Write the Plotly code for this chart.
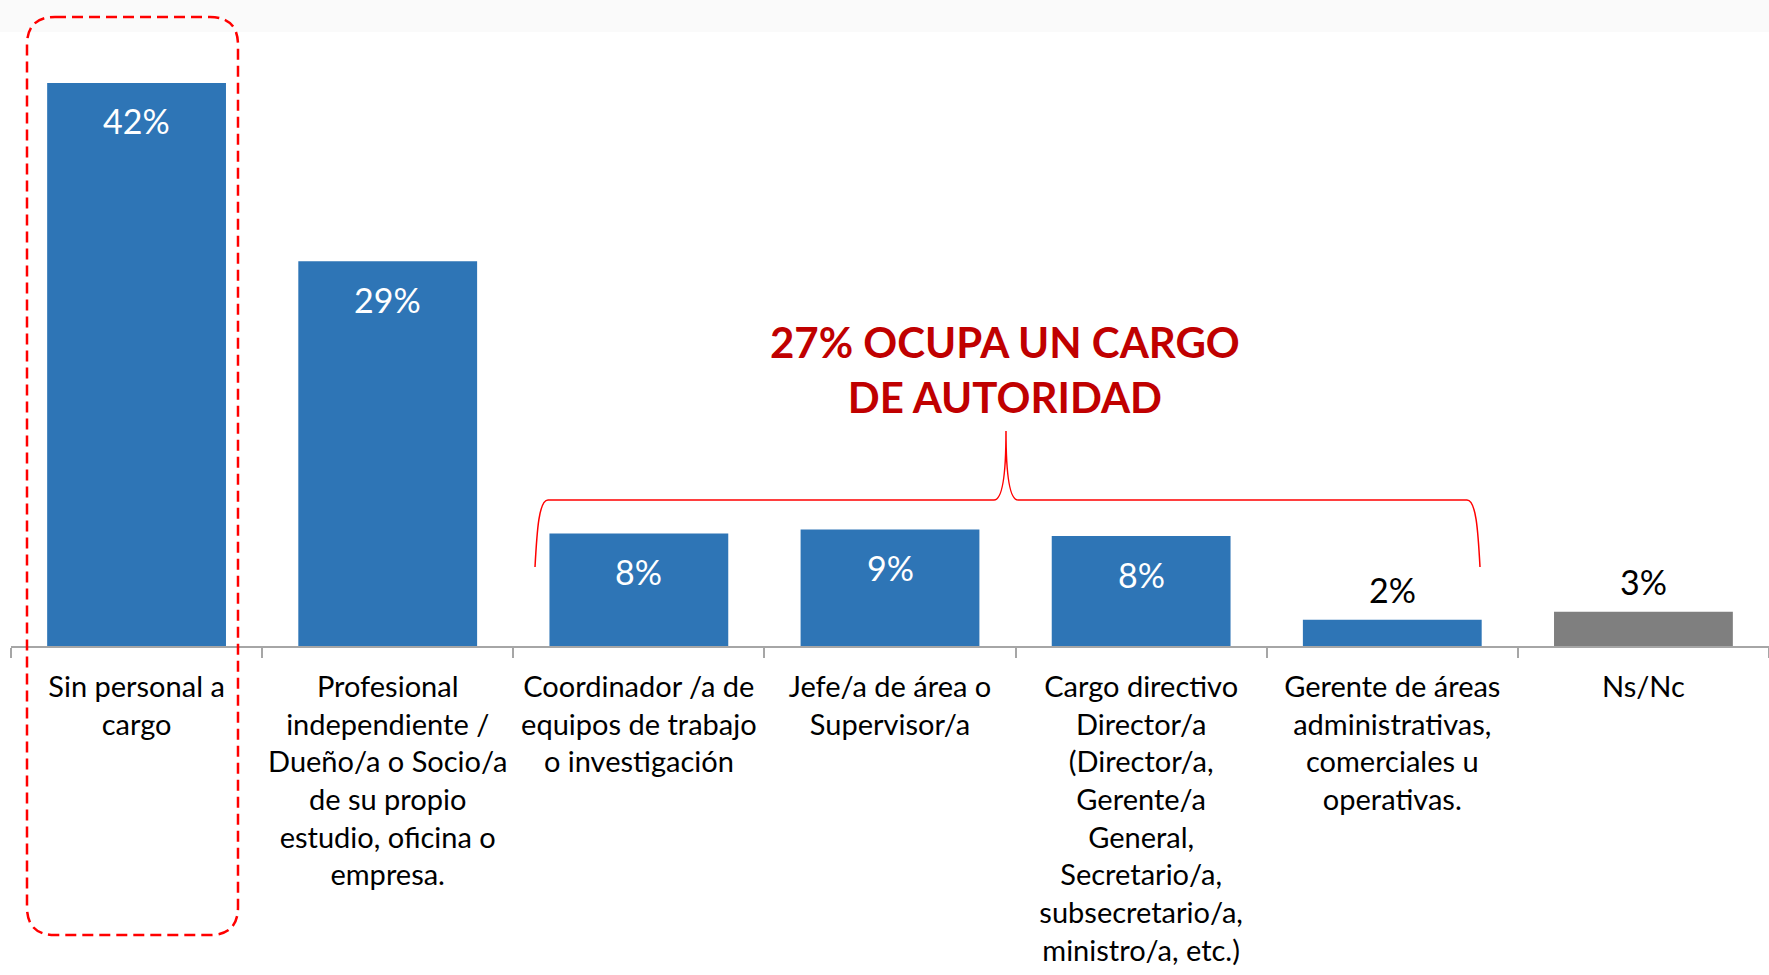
import plotly.graph_objects as go

# ---------------- data ----------------
categories = [
    "Sin personal a<br>cargo",
    "Profesional<br>independiente /<br>Dueño/a o Socio/a<br>de su propio<br>estudio, oficina o<br>empresa.",
    "Coordinador /a de<br>equipos de trabajo<br>o investigación",
    "Jefe/a de área o<br>Supervisor/a",
    "Cargo directivo<br>Director/a<br>(Director/a,<br>Gerente/a<br>General,<br>Secretario/a,<br>subsecretario/a,<br>ministro/a, etc.)",
    "Gerente de áreas<br>administrativas,<br>comerciales u<br>operativas.",
    "Ns/Nc",
]
values = [42.0, 28.7, 8.4, 8.7, 8.2, 1.95, 2.55]
value_labels = ["42%", "29%", "8%", "9%", "8%", "2%", "3%"]
is_nsnc = [False, False, False, False, False, False, True]
headline = "27% OCUPA UN CARGO<br>DE AUTORIDAD"

# ---------------- style ----------------
BLUE = "#2E75B6"
GRAY = "#7F7F7F"
FONT = "Lato, Carlito, Calibri, sans-serif"
W, H = 1769, 975
L, R, T, B = 11, 0, 0, 329
PW, PH = W - L - R, H - T - B
YMAX = PH / 13.405

def px(x):
    return (x - L) / PW

def py(y):
    return (H - B - y) / PH

colors = [GRAY if n else BLUE for n in is_nsnc]

fig = go.Figure(
    go.Bar(
        x=categories,
        y=values,
        marker=dict(color=colors, line=dict(width=0)),
        hoverinfo="skip",
    )
)

# value labels
for cat, v, lab in zip(categories, values, value_labels):
    inside = v > 5
    fig.add_annotation(
        x=cat, y=v, xref="x", yref="y",
        text=lab, showarrow=False, yanchor="middle",
        yshift=-38 if inside else 30,
        font=dict(family=FONT, size=34, color="white" if inside else "black"),
    )

# headline
fig.add_annotation(
    x=px(1005), y=py(370), xref="paper", yref="paper",
    text="<b>" + headline + "</b>", showarrow=False,
    xanchor="center", yanchor="middle", align="center",
    font=dict(family=FONT, size=42, color="#C00000"),
)

# curly brace
def P(x, y):
    return f"{px(x):.5f},{py(y):.5f}"

brace = (
    f"M {P(535,567)} C {P(537,530)} {P(539,500)} {P(548,500)} "
    f"L {P(994,500)} C {P(1003,500)} {P(1006,470)} {P(1006,431)} "
    f"C {P(1006,470)} {P(1009,500)} {P(1018,500)} "
    f"L {P(1467,500)} C {P(1476,500)} {P(1478,530)} {P(1480,567)}"
)
fig.add_shape(type="path", path=brace, xref="paper", yref="paper",
              line=dict(color="#FF0000", width=1.5))

# dashed rounded rectangle
x0, x1, y0, y1, r = 27, 238, 17, 935, 28
box = (
    f"M {P(x0+r,y0)} L {P(x1-r,y0)} Q {P(x1,y0)} {P(x1,y0+r)} "
    f"L {P(x1,y1-r)} Q {P(x1,y1)} {P(x1-r,y1)} "
    f"L {P(x0+r,y1)} Q {P(x0,y1)} {P(x0,y1-r)} "
    f"L {P(x0,y0+r)} Q {P(x0,y0)} {P(x0+r,y0)} Z"
)
fig.add_shape(type="path", path=box, xref="paper", yref="paper",
              line=dict(color="#FF0000", width=2.5, dash="11px,6px"))

# faint top band
fig.add_shape(type="rect", xref="paper", yref="paper",
              x0=px(0), x1=px(W), y0=py(32), y1=py(0),
              fillcolor="#FAFAFA", line=dict(width=0), layer="below")

fig.update_layout(
    width=W, height=H,
    margin=dict(l=L, r=R, t=T, b=B, autoexpand=False),
    paper_bgcolor="white", plot_bgcolor="white",
    bargap=0.288,
    showlegend=False,
    font=dict(family=FONT, color="black"),
)
fig.update_xaxes(
    automargin=False,
    showline=True, linecolor="#A6A6A6", linewidth=2,
    ticks="outside", tickson="boundaries", ticklen=10, tickwidth=2, tickcolor="#A6A6A6",
    tickfont=dict(family=FONT, size=29, color="black"),
    ticklabelstandoff=14,
    showgrid=False, zeroline=False, tickangle=0,
)
fig.update_yaxes(automargin=False, visible=False, range=[0, YMAX],
                 showgrid=False, zeroline=False)

fig.write_html(
    "out.html",
    config={"displayModeBar": False},
    post_script="document.body.style.margin='0';document.body.style.overflow='hidden';",
)
